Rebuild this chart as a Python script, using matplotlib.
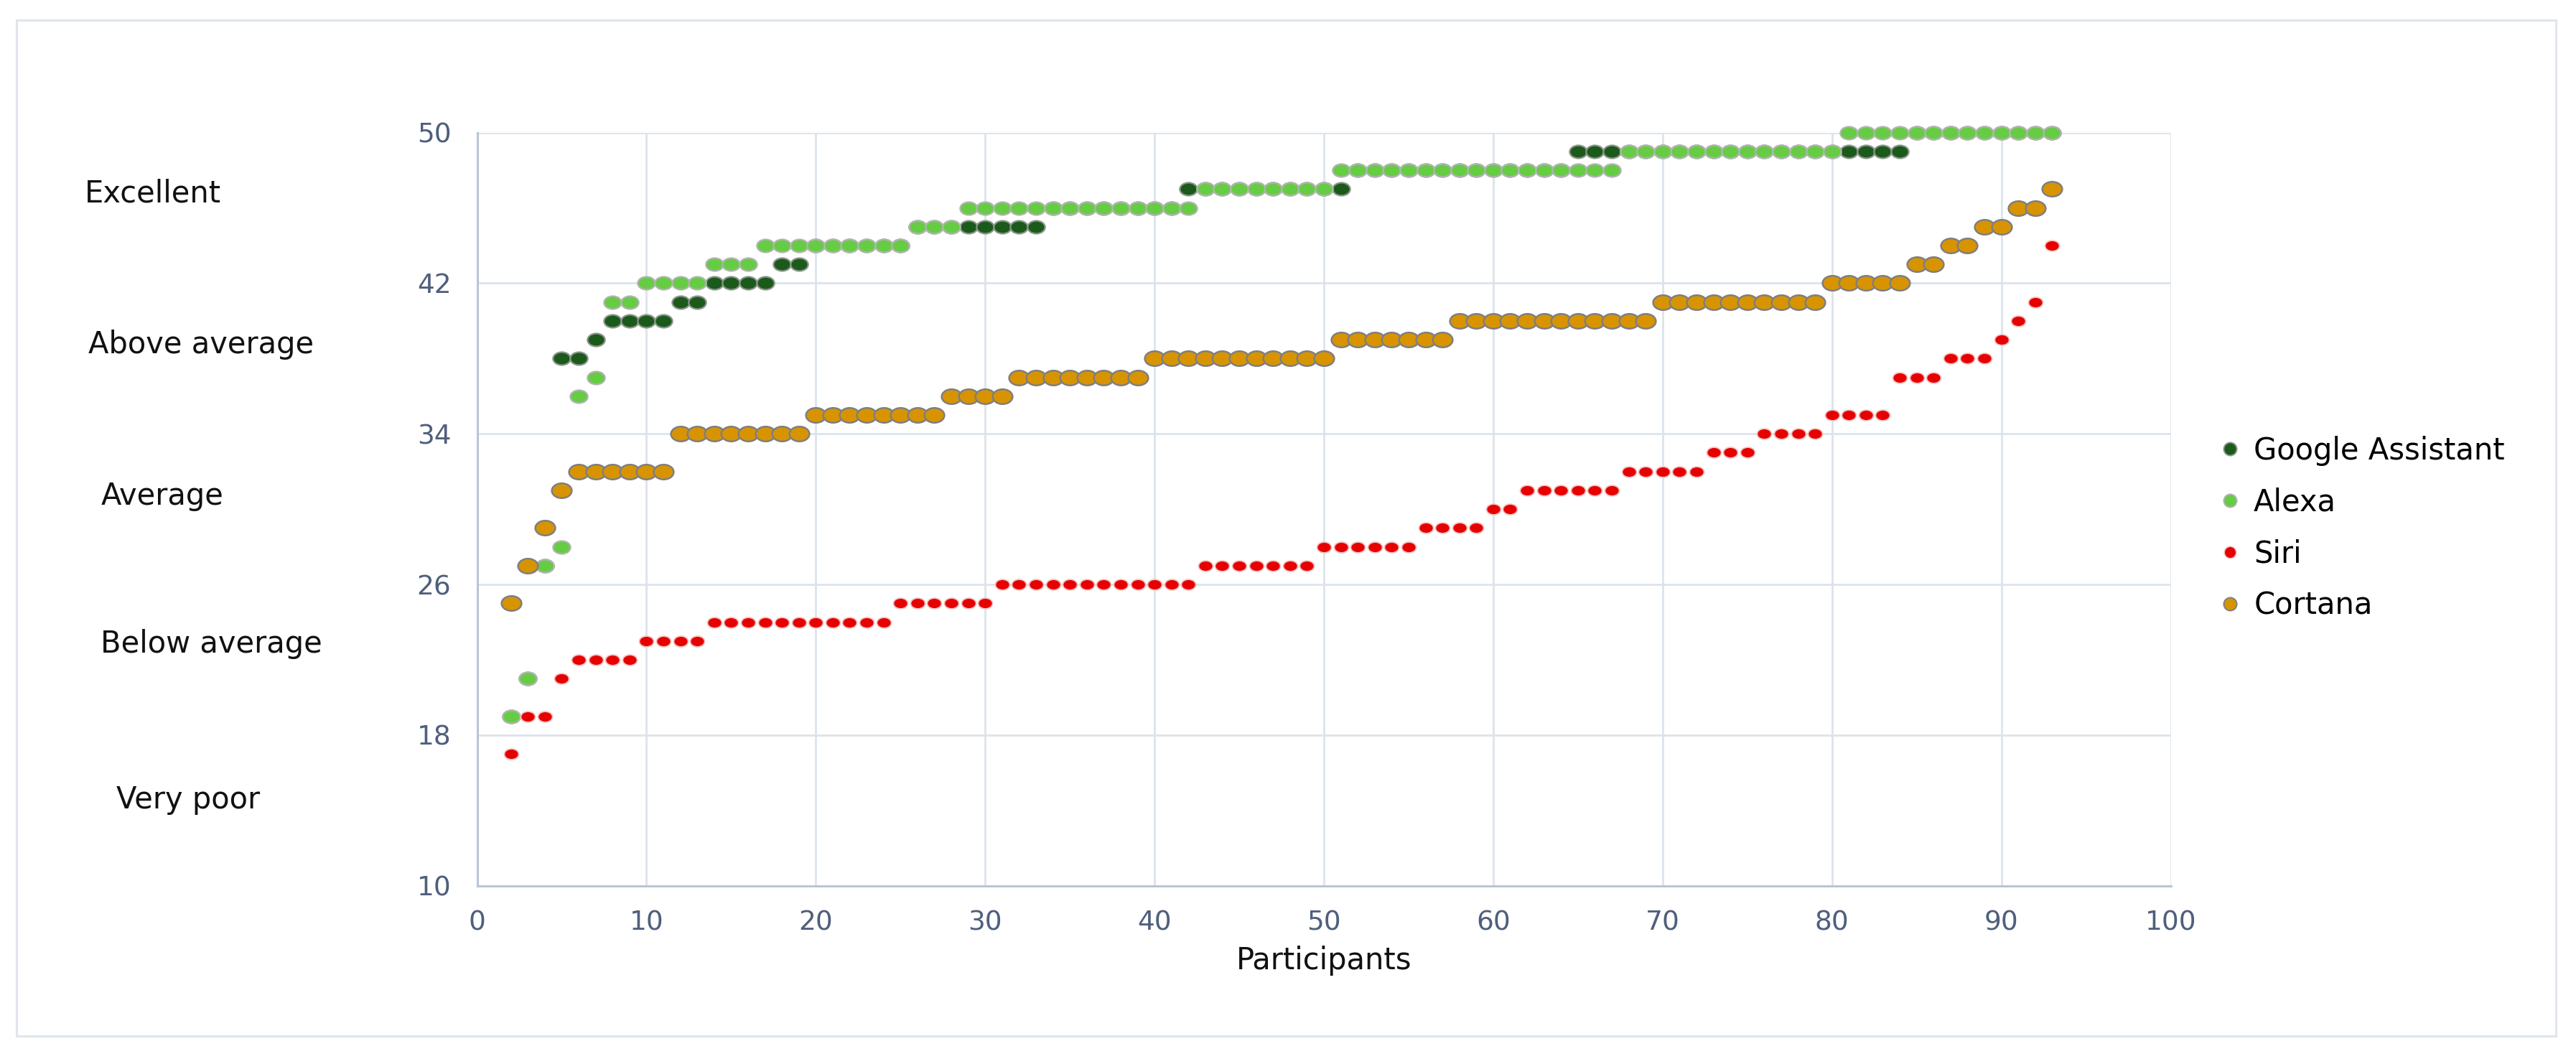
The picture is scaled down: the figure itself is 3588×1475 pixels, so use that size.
import matplotlib
matplotlib.use("Agg")
import matplotlib.pyplot as plt
from matplotlib.path import Path
from matplotlib.transforms import Affine2D
from matplotlib.lines import Line2D
from matplotlib.patches import Rectangle

participants = list(range(2, 94))

google = [19, 21, 27, 38, 38, 39, 40, 40, 40, 40, 41, 41, 42, 42, 42, 42, 43, 43,
          44, 44, 44, 44, 44, 44, 45, 45, 45, 45, 45, 45, 45, 45, 46, 46, 46, 46,
          46, 46, 46, 46, 47, 47, 47, 47, 47, 47, 47, 47, 47, 47, 48, 48, 48, 48,
          48, 48, 48, 48, 48, 48, 48, 48, 48, 49, 49, 49, 49, 49, 49, 49, 49, 49,
          49, 49, 49, 49, 49, 49, 49, 49, 49, 49, 49, 50, 50, 50, 50, 50, 50, 50,
          50, 50]

alexa = [19, 21, 27, 28, 36, 37, 41, 41, 42, 42, 42, 42, 43, 43, 43, 44, 44, 44,
         44, 44, 44, 44, 44, 44, 45, 45, 45, 46, 46, 46, 46, 46, 46, 46, 46, 46,
         46, 46, 46, 46, 46, 47, 47, 47, 47, 47, 47, 47, 47, 48, 48, 48, 48, 48,
         48, 48, 48, 48, 48, 48, 48, 48, 48, 48, 48, 48, 49, 49, 49, 49, 49, 49,
         49, 49, 49, 49, 49, 49, 49, 50, 50, 50, 50, 50, 50, 50, 50, 50, 50, 50,
         50, 50]

siri = [17, 19, 19, 21, 22, 22, 22, 22, 23, 23, 23, 23, 24, 24, 24, 24, 24, 24,
        24, 24, 24, 24, 24, 25, 25, 25, 25, 25, 25, 26, 26, 26, 26, 26, 26, 26,
        26, 26, 26, 26, 26, 27, 27, 27, 27, 27, 27, 27, 28, 28, 28, 28, 28, 28,
        29, 29, 29, 29, 30, 30, 31, 31, 31, 31, 31, 31, 32, 32, 32, 32, 32, 33,
        33, 33, 34, 34, 34, 34, 35, 35, 35, 35, 37, 37, 37, 38, 38, 38, 39, 40,
        41, 44]

cortana = [25, 27, 29, 31, 32, 32, 32, 32, 32, 32, 34, 34, 34, 34, 34, 34, 34, 34,
           35, 35, 35, 35, 35, 35, 35, 35, 36, 36, 36, 36, 37, 37, 37, 37, 37, 37,
           37, 37, 38, 38, 38, 38, 38, 38, 38, 38, 38, 38, 38, 39, 39, 39, 39, 39,
           39, 39, 40, 40, 40, 40, 40, 40, 40, 40, 40, 40, 40, 40, 41, 41, 41, 41,
           41, 41, 41, 41, 41, 41, 42, 42, 42, 42, 42, 43, 43, 44, 44, 45, 45, 46,
           46, 47]

series_names = ["Google Assistant", "Alexa", "Siri", "Cortana"]
y_ticks = [10, 18, 26, 34, 42, 50]
x_ticks = [0, 10, 20, 30, 40, 50, 60, 70, 80, 90, 100]
rating_labels = ["Excellent", "Above average", "Average", "Below average", "Very poor"]

W, H = 3588, 1475
fig = plt.figure(figsize=(W / 100, H / 100), dpi=100)
fig.patch.set_facecolor("white")

# outer frame
fig.add_artist(Rectangle((23 / W, 1 - 1443 / H), (3560 - 23) / W, (1443 - 28) / H,
                         transform=fig.transFigure, fill=False,
                         edgecolor="#e0e5ed", linewidth=2.2))

ax = fig.add_axes([664.5 / W, 1 - 1233.7 / H, (3023.5 - 664.5) / W, (1233.7 - 184.6) / H])
ax.set_xlim(0, 100)
ax.set_ylim(10, 50)
ax.set_xticks(x_ticks)
ax.set_yticks(y_ticks)
ax.grid(True, color="#dce3ec", linewidth=2.0)
ax.set_axisbelow(True)
for s in ["top", "right"]:
    ax.spines[s].set_visible(False)
for s in ["left", "bottom"]:
    ax.spines[s].set_color("#b9c5d7")
    ax.spines[s].set_linewidth(2.2)
ax.tick_params(length=0, labelsize=27, labelcolor="#4f5f7c")
ax.tick_params(axis="y", pad=26)
ax.tick_params(axis="x", pad=24)
ax.set_xlabel("Participants", fontsize=30, color="#111111", labelpad=10)

ell = Path.unit_circle().transformed(Affine2D().scale(1.0, 0.74))

ax.plot(participants, google, linestyle="none", marker=ell, markersize=17.5,
        markerfacecolor="#1b5a1b", markeredgecolor="#8c958c", markeredgewidth=1.6,
        label=series_names[0], zorder=3, clip_on=False)
ax.plot(participants, alexa, linestyle="none", marker=ell, markersize=17.5,
        markerfacecolor="#66cc44", markeredgecolor="#b0b5b0", markeredgewidth=1.6,
        label=series_names[1], zorder=4, clip_on=False)
ax.plot(participants, siri, linestyle="none", marker=ell, markersize=14.5,
        markerfacecolor="#e60000", markeredgecolor="#f3c4c4", markeredgewidth=1.3,
        label=series_names[2], zorder=5, clip_on=False)
ax.plot(participants, cortana, linestyle="none", marker=ell, markersize=20,
        markerfacecolor="#d89400", markeredgecolor="#7f7f7f", markeredgewidth=1.8,
        label=series_names[3], zorder=6, clip_on=False)

# rating labels on the left
label_pos = [(118, 270), (123, 480), (141, 691), (140, 897), (162, 1114)]
for txt, (px, py) in zip(rating_labels, label_pos):
    fig.text(px / W, 1 - py / H, txt, fontsize=30, color="#111111",
             ha="left", va="center")

# legend
handles = [
    Line2D([], [], linestyle="none", marker="o", markersize=13,
           markerfacecolor="#1b5a1b", markeredgecolor="#8c958c", markeredgewidth=1.4),
    Line2D([], [], linestyle="none", marker="o", markersize=13,
           markerfacecolor="#66cc44", markeredgecolor="#b0b5b0", markeredgewidth=1.4),
    Line2D([], [], linestyle="none", marker="o", markersize=12,
           markerfacecolor="#e60000", markeredgecolor="#f3c4c4", markeredgewidth=1.2),
    Line2D([], [], linestyle="none", marker="o", markersize=13,
           markerfacecolor="#d89400", markeredgecolor="#7f7f7f", markeredgewidth=1.4),
]
fig.legend(handles, series_names, loc="center left",
           bbox_to_anchor=(3085 / W, 1 - 736 / H), frameon=False,
           fontsize=30, labelspacing=0.72, handletextpad=0.3, handlelength=1.0,
           borderpad=0, borderaxespad=0)

fig.savefig("out.png", dpi=100, facecolor="white")
